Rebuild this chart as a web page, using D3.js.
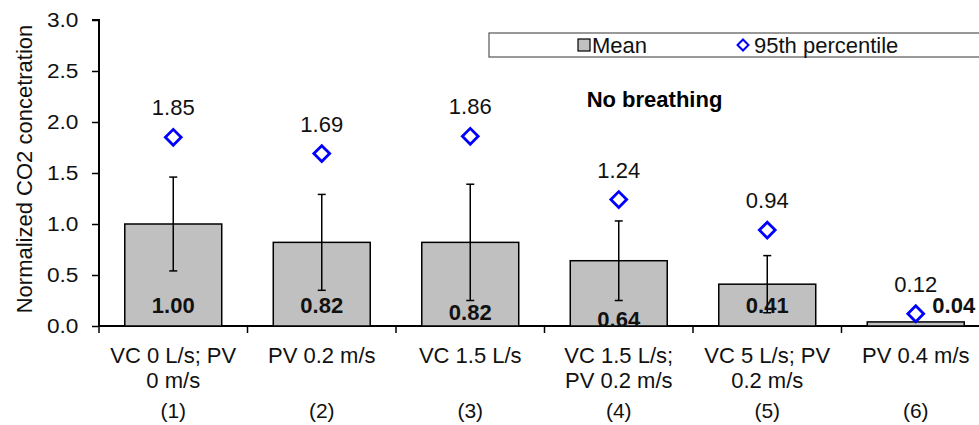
<!DOCTYPE html>
<html>
<head>
<meta charset="utf-8">
<script src="https://cdn.jsdelivr.net/npm/d3@7.9.0/dist/d3.min.js"></script>
<style>
	html, body { margin: 0; padding: 0; background: #fff; }
	svg { display: block; font-family: 'Liberation Sans', Arial, sans-serif; }
</style>
</head>
<body>
<svg id="chart" width="979" height="425"></svg>
<script>
// data
const caseLines = [
	['VC 0 L/s; PV', '0 m/s'],
	['PV 0.2 m/s'],
	['VC 1.5 L/s'],
	['VC 1.5 L/s;', 'PV 0.2 m/s'],
	['VC 5 L/s; PV', '0.2 m/s'],
	['PV 0.4 m/s'],
];
const caseIds = ['(1)', '(2)', '(3)', '(4)', '(5)', '(6)'];
const meanValues = [1.00, 0.82, 0.82, 0.64, 0.41, 0.04];
const sdValues = [0.46, 0.47, 0.57, 0.39, 0.28, 0];
const p95Values = [1.85, 1.69, 1.86, 1.24, 0.94, 0.12];
const yTicks = [0, 0.5, 1.0, 1.5, 2.0, 2.5, 3.0];

// small hand nudges for the bold mean labels (dx, dy), as in the original figure
const meanLabelNudge = [[0, 0], [0, 0], [0, 7], [0, 14], [0, 0], [38, 0]];

const svg = d3.select('#chart');
const margin = { left: 99, top: 20, right: -11, bottom: 99 };
const width = 979 - margin.left - margin.right;
const height = 425 - margin.top - margin.bottom;

const x = d3.scaleBand()
	.domain(caseIds)
	.range([0, width])
	.paddingInner(0.347)
	.paddingOuter(0.1735);
const y = d3.scaleLinear().domain([0, 3]).range([height, 0]);

const g = svg.append('g').attr('transform', `translate(${margin.left},${margin.top})`);

// y axis
const yAxis = g.append('g')
	.call(d3.axisLeft(y).tickValues(yTicks).tickFormat(d3.format('.1f')).tickSize(7).tickPadding(12));
yAxis.select('.domain').attr('stroke-width', 2).attr('d', `M-7,0H0V${height}`);
yAxis.selectAll('.tick line').attr('stroke-width', 1.5);
yAxis.selectAll('.tick text').attr('font-size', 21).attr('fill', '#111')
	.attr('transform', 'scale(1.08,1)');

svg.append('text')
	.attr('transform', `translate(32,169) rotate(-90)`)
	.attr('text-anchor', 'middle')
	.attr('font-size', 22)
	.attr('fill', '#111')
	.text('Normalized CO2 concetration');

// x axis with ticks at category boundaries
g.append('line')
	.attr('x1', 0).attr('x2', width)
	.attr('y1', height).attr('y2', height)
	.attr('stroke', '#000').attr('stroke-width', 2);
const step = x.step();
g.selectAll('.xtick')
	.data(d3.range(caseIds.length + 1))
	.join('line')
	.attr('class', 'xtick')
	.attr('x1', (i) => i * step).attr('x2', (i) => i * step)
	.attr('y1', height).attr('y2', height + 7)
	.attr('stroke', '#000').attr('stroke-width', 1.5);

// bars
g.selectAll('.bar')
	.data(meanValues)
	.join('rect')
	.attr('class', 'bar')
	.attr('x', (d, i) => x(caseIds[i]))
	.attr('y', (d) => y(d))
	.attr('width', x.bandwidth())
	.attr('height', (d) => height - y(d))
	.attr('fill', '#c0c0c0')
	.attr('stroke', '#000')
	.attr('stroke-width', 1.5);

// error bars
const cx = (i) => x(caseIds[i]) + x.bandwidth() / 2;
meanValues.forEach((m, i) => {
	const sd = sdValues[i];
	if (!sd) return;
	const eb = g.append('g').attr('stroke', '#000').attr('stroke-width', 1.5);
	eb.append('line').attr('x1', cx(i)).attr('x2', cx(i)).attr('y1', y(m + sd)).attr('y2', y(m - sd));
	[m + sd, m - sd].forEach((v) => {
		eb.append('line').attr('x1', cx(i) - 4).attr('x2', cx(i) + 4).attr('y1', y(v)).attr('y2', y(v));
	});
});

// mean labels
g.selectAll('.mean-label')
	.data(meanValues)
	.join('text')
	.attr('class', 'mean-label')
	.attr('x', (d, i) => cx(i) + meanLabelNudge[i][0])
	.attr('y', (d, i) => height - 13 + meanLabelNudge[i][1])
	.attr('text-anchor', 'middle')
	.attr('font-size', 22)
	.attr('font-weight', 'bold')
	.attr('fill', '#111')
	.text((d) => d.toFixed(2));

// 95th percentile diamonds and labels
const diamond = d3.symbol().type(d3.symbolSquare).size(125);
g.selectAll('.p95')
	.data(p95Values)
	.join('path')
	.attr('class', 'p95')
	.attr('d', diamond)
	.attr('transform', (d, i) => `translate(${cx(i)},${y(d)}) rotate(45)`)
	.attr('fill', '#fff')
	.attr('stroke', '#0000ff')
	.attr('stroke-width', 2.8);

g.selectAll('.p95-label')
	.data(p95Values)
	.join('text')
	.attr('class', 'p95-label')
	.attr('x', (d, i) => cx(i))
	.attr('y', (d) => y(d) - 22)
	.attr('text-anchor', 'middle')
	.attr('font-size', 22)
	.attr('fill', '#111')
	.text((d) => d.toFixed(2));

// category labels
const cat = g.selectAll('.cat')
	.data(caseLines)
	.join('text')
	.attr('class', 'cat')
	.attr('text-anchor', 'middle')
	.attr('font-size', 22)
	.attr('fill', '#111');
cat.selectAll('tspan')
	.data((d, i) => d.map((line) => ({ line, i })))
	.join('tspan')
	.attr('x', (d) => cx(d.i))
	.attr('y', (d, j) => height + 37 + j * 25)
	.text((d) => d.line);

g.selectAll('.case-id')
	.data(caseIds)
	.join('text')
	.attr('class', 'case-id')
	.attr('x', (d, i) => cx(i))
	.attr('y', height + 92)
	.attr('text-anchor', 'middle')
	.attr('font-family', "'Liberation Sans Narrow', 'Liberation Sans', sans-serif")
	.attr('font-size', 21)
	.attr('fill', '#111')
	.text((d) => d);

// legend box
svg.append('rect')
	.attr('x', 489).attr('y', 33)
	.attr('width', 510).attr('height', 24)
	.attr('fill', '#fff')
	.attr('stroke', '#555')
	.attr('stroke-width', 1.2);
svg.append('rect')
	.attr('x', 578).attr('y', 39)
	.attr('width', 12).attr('height', 12)
	.attr('fill', '#c0c0c0').attr('stroke', '#000').attr('stroke-width', 1.2);
svg.append('text')
	.attr('x', 592).attr('y', 53)
	.attr('font-size', 22).attr('fill', '#111')
	.text('Mean');
svg.append('path')
	.attr('d', d3.symbol().type(d3.symbolSquare).size(60))
	.attr('transform', 'translate(743,45) rotate(45)')
	.attr('fill', '#fff').attr('stroke', '#0000ff').attr('stroke-width', 2);
svg.append('text')
	.attr('x', 754).attr('y', 53)
	.attr('font-size', 22).attr('fill', '#111')
	.text('95th percentile');

svg.append('text')
	.attr('x', 654.5).attr('y', 107)
	.attr('text-anchor', 'middle')
	.attr('font-size', 22)
	.attr('font-weight', 'bold')
	.attr('fill', '#000')
	.text('No breathing');
</script>
</body>
</html>
